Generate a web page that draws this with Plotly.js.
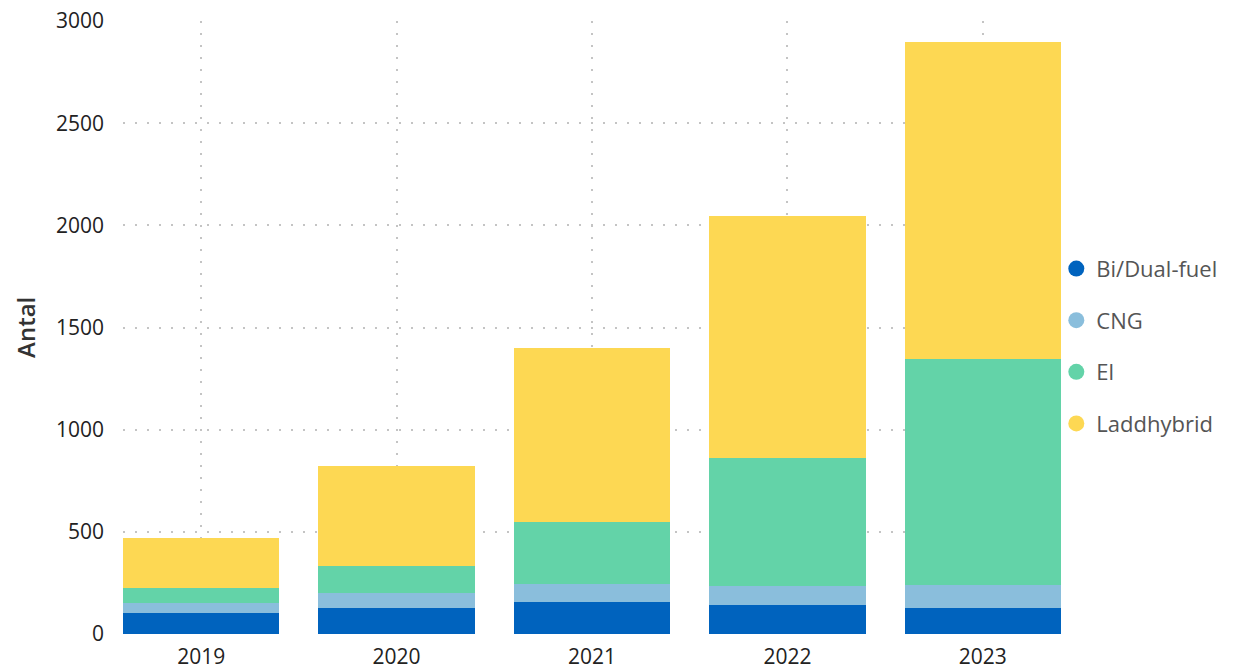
<!DOCTYPE html>
<html>
<head>
<meta charset="utf-8">
<script src="https://cdn.plot.ly/plotly-3.0.1.min.js"></script>
<style>html,body{margin:0;padding:0;background:#fff;}#chart{width:1234px;height:670px;}</style>
</head>
<body>
<div id="chart"></div>
<script>
const years = ['2019', '2020', '2021', '2022', '2023'];
const biDualFuel = [105, 127, 157, 142, 127];
const cng = [47, 73, 88, 93, 113];
const el = [73, 133, 303, 626, 1106];
const laddhybrid = [245, 489, 852, 1184, 1551];
const seriesNames = ['Bi/Dual-fuel', 'CNG', 'El', 'Laddhybrid'];
const seriesColors = ['#0063BE', '#8ABEDC', '#63D3A8', '#FDD853'];
const yTitle = 'Antal';

const seriesValues = [biDualFuel, cng, el, laddhybrid];
const traces = [];
seriesValues.forEach((vals, i) => {
  traces.push({
    type: 'bar', x: years, y: vals, name: seriesNames[i],
    marker: {color: seriesColors[i], line: {width: 0}},
    showlegend: false, hoverinfo: 'x+y+name'
  });
});
seriesNames.forEach((n, i) => {
  traces.push({
    type: 'scatter', mode: 'markers', x: [null], y: [null], name: n,
    legendgroup: 'g' + i,
    marker: {color: seriesColors[i], size: 16, symbol: 'circle'}
  });
});

const layout = {
  width: 1234, height: 670,
  margin: {l: 123, r: 171, t: 21, b: 36},
  barmode: 'stack', bargap: 0.2,
  paper_bgcolor: '#fff', plot_bgcolor: '#fff',
  font: {family: 'Open Sans, Noto Sans, sans-serif', color: '#222'},
  xaxis: {
    type: 'category', range: [-0.4, 4.4],
    showgrid: true, gridcolor: '#c4c4c4', gridwidth: 2, griddash: '2px,10px',
    zeroline: false, showline: false, ticks: '', ticklabelstandoff: 8,
    tickfont: {size: 21, color: '#222'}, automargin: false
  },
  yaxis: {
    range: [0, 3000], tickvals: [0, 500, 1000, 1500, 2000, 2500, 3000],
    showgrid: true, gridcolor: '#c4c4c4', gridwidth: 2, griddash: '2px,10px',
    zeroline: false, showline: false, ticks: '', ticklabelstandoff: 18,
    tickfont: {size: 21, color: '#222'}, automargin: false
  },
  annotations: [{
    text: yTitle, xref: 'paper', yref: 'paper', x: -0.104, y: 0.5,
    xanchor: 'center', yanchor: 'middle', textangle: -90, showarrow: false,
    font: {size: 24, color: '#333', weight: 600}
  }],
  legend: {
    x: 0.995, xanchor: 'left', y: 0.63, yanchor: 'top',
    font: {size: 22, color: '#555'}, traceorder: 'grouped',
    tracegroupgap: 20, itemwidth: 30, bgcolor: 'rgba(0,0,0,0)'
  },
  showlegend: true
};
Plotly.newPlot('chart', traces, layout, {displayModeBar: false, staticPlot: true});
</script>
</body>
</html>
